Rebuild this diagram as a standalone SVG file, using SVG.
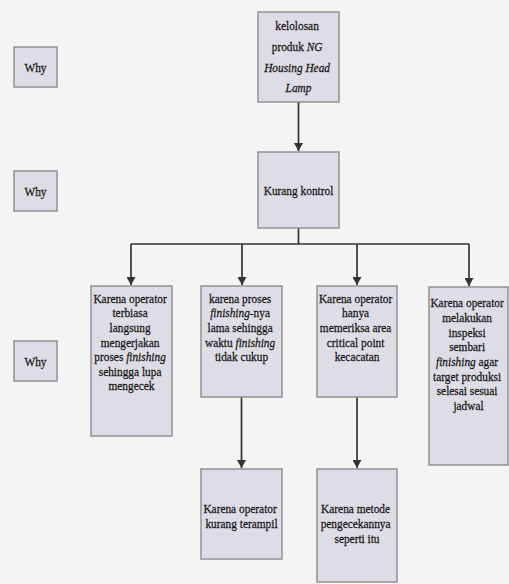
<svg xmlns="http://www.w3.org/2000/svg" width="509" height="584" viewBox="0 0 509 584">
  <style>
    .box { fill: #dedde5; stroke: #8b8b8f; stroke-width: 1.4; }
    .t { font-family: "Liberation Serif", "Times New Roman", serif; font-size: 13.2px; text-anchor: middle; fill: #151515; stroke: #151515; stroke-width: 0.25; }
    .i { font-style: italic; }
    .edge { fill: none; stroke: #333; stroke-width: 1.7; }
  </style>
  <defs>
    <marker id="arrow" markerUnits="userSpaceOnUse" markerWidth="8" markerHeight="9" refX="8" refY="4.5" orient="auto">
      <path d="M0,0 L8,4.5 L0,9 z" fill="#333"/>
    </marker>
  </defs>

  <rect width="509" height="584" fill="#f4f4f4"/>

  <!-- row labels -->
  <g id="why1">
    <rect class="box" x="14" y="47" width="43" height="40"/>
    <text class="t" transform="translate(35.5 0) scale(0.86 1)" x="0" y="72">Why</text>
  </g>
  <g id="why2">
    <rect class="box" x="14" y="171" width="43" height="40"/>
    <text class="t" transform="translate(35.5 0) scale(0.86 1)" x="0" y="196">Why</text>
  </g>
  <g id="why3">
    <rect class="box" x="14" y="341" width="43" height="40"/>
    <text class="t" transform="translate(35.5 0) scale(0.86 1)" x="0" y="366">Why</text>
  </g>

  <!-- connectors -->
  <g id="connectors">
    <path class="edge" d="M298.5,102 V151" marker-end="url(#arrow)"/>
    <path class="edge" d="M298.5,228 V244 M131,244 H469"/>
    <path class="edge" d="M131,244 V285" marker-end="url(#arrow)"/>
    <path class="edge" d="M242,244 V285" marker-end="url(#arrow)"/>
    <path class="edge" d="M357,244 V285" marker-end="url(#arrow)"/>
    <path class="edge" d="M469,244 V286" marker-end="url(#arrow)"/>
    <path class="edge" d="M241.5,397 V468" marker-end="url(#arrow)"/>
    <path class="edge" d="M357,397 V468" marker-end="url(#arrow)"/>
  </g>

  <!-- problem -->
  <g id="problem">
    <rect class="box" x="258" y="12" width="81" height="90"/>
    <text class="t" transform="translate(298.5 0) scale(0.86 1)">
      <tspan x="0" y="30">kelolosan</tspan>
      <tspan x="0" y="51">produk <tspan class="i">NG</tspan></tspan>
      <tspan class="i" x="0" y="72">Housing Head</tspan>
      <tspan class="i" x="0" y="92">Lamp</tspan>
    </text>
  </g>

  <g id="kurang-kontrol">
    <rect class="box" x="258" y="152" width="81" height="76"/>
    <text class="t" transform="translate(298.5 0) scale(0.86 1)" x="0" y="195">Kurang kontrol</text>
  </g>

  <g id="cause1">
    <rect class="box" x="91" y="286" width="81" height="150"/>
    <text class="t" transform="translate(131.5 0) scale(0.86 1)">
      <tspan x="0" y="302.7">Karena operator</tspan>
      <tspan x="0" y="317.3">terbiasa</tspan>
      <tspan x="0" y="332">langsung</tspan>
      <tspan x="0" y="346.7">mengerjakan</tspan>
      <tspan x="0" y="361.3">proses <tspan class="i">finishing</tspan></tspan>
      <tspan x="0" y="375.9">sehingga lupa</tspan>
      <tspan x="0" y="390.5">mengecek</tspan>
    </text>
  </g>

  <g id="cause2">
    <rect class="box" x="201" y="286" width="81" height="111"/>
    <text class="t" transform="translate(241.5 0) scale(0.86 1)">
      <tspan x="0" y="302.7">karena proses</tspan>
      <tspan x="0" y="317.3"><tspan class="i">finishing</tspan>-nya</tspan>
      <tspan x="0" y="332">lama sehingga</tspan>
      <tspan x="0" y="346.7">waktu <tspan class="i">finishing</tspan></tspan>
      <tspan x="0" y="361.3">tidak cukup</tspan>
    </text>
  </g>

  <g id="cause3">
    <rect class="box" x="317" y="286" width="80" height="111"/>
    <text class="t" transform="translate(357 0) scale(0.86 1)">
      <tspan x="0" y="302.7">Karena operator</tspan>
      <tspan x="0" y="317.3">hanya</tspan>
      <tspan x="0" y="332">memeriksa area</tspan>
      <tspan x="0" y="346.7">critical point</tspan>
      <tspan x="0" y="361.3">kecacatan</tspan>
    </text>
  </g>

  <g id="cause4">
    <rect class="box" x="429" y="287" width="79" height="178"/>
    <text class="t" transform="translate(468.5 0) scale(0.86 1)">
      <tspan x="0" y="307.3">Karena operator</tspan>
      <tspan x="0" y="322">melakukan</tspan>
      <tspan x="0" y="336.7">inspeksi</tspan>
      <tspan x="0" y="351.3">sembari</tspan>
      <tspan x="0" y="366"><tspan class="i">finishing</tspan> agar</tspan>
      <tspan x="0" y="380.6">target produksi</tspan>
      <tspan x="0" y="395.2">selesai sesuai</tspan>
      <tspan x="0" y="409.8">jadwal</tspan>
    </text>
  </g>

  <g id="cause2-root">
    <rect class="box" x="201" y="469" width="81" height="90"/>
    <text class="t" transform="translate(241.5 0) scale(0.86 1)">
      <tspan x="0" y="513.5">Karena operator</tspan>
      <tspan x="0" y="528.1">kurang terampil</tspan>
    </text>
  </g>

  <g id="cause3-root">
    <rect class="box" x="317" y="469" width="80" height="113"/>
    <text class="t" transform="translate(357 0) scale(0.86 1)">
      <tspan x="0" y="513.5">Karena metode</tspan>
      <tspan x="0" y="528.1">pengecekannya</tspan>
      <tspan x="0" y="542.7">seperti itu</tspan>
    </text>
  </g>
</svg>
